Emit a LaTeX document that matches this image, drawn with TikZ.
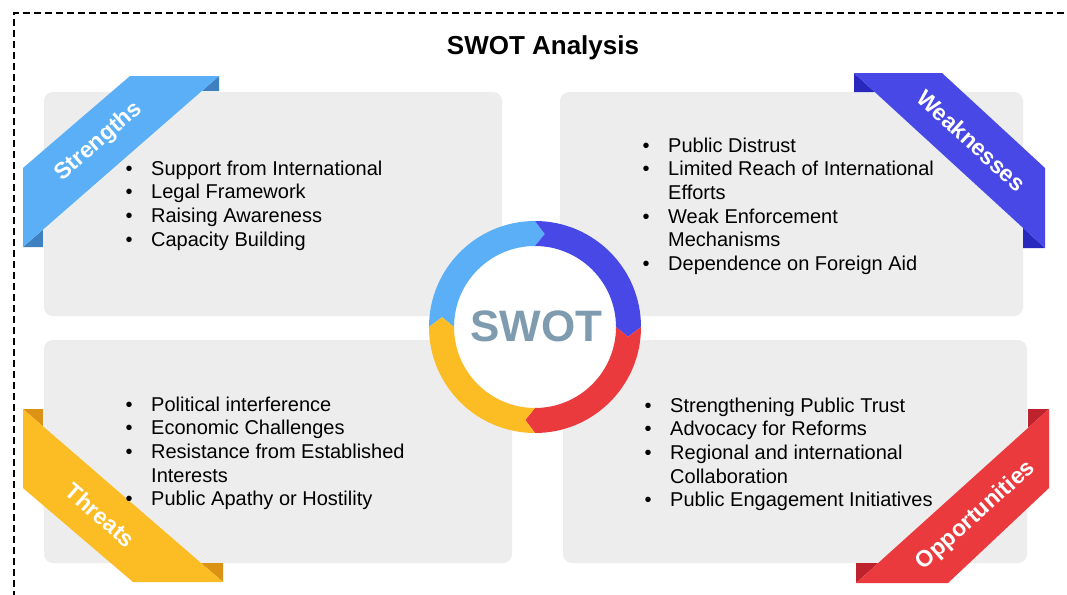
\documentclass[tikz,border=0pt]{standalone}
\usepackage{fontspec}
\setmainfont{Liberation Sans}
\usepackage{array}

\definecolor{swS}{HTML}{5AAFF6}
\definecolor{swSd}{HTML}{3F80C0}
\definecolor{swW}{HTML}{4848E6}
\definecolor{swWd}{HTML}{2828BE}
\definecolor{swO}{HTML}{EB3A3E}
\definecolor{swOd}{HTML}{BE232D}
\definecolor{swT}{HTML}{FBBC24}
\definecolor{swTd}{HTML}{DC9214}
\definecolor{panelgray}{HTML}{EDEDED}
\definecolor{coretext}{HTML}{7F9BAF}

% bullet list set as a two-column table: bullet, then item text
\newcommand{\swotlist}[1]{\fontsize{20}{23.7}\selectfont
  \begin{tabular}[t]{@{}p{7pt}@{\hspace{18.5pt}}l@{}}#1\end{tabular}}

\begin{document}
\begin{tikzpicture}[x=1pt,y=-1pt,
  frame/.style={line width=1.6pt,dash pattern=on 7pt off 4pt},
  panel/.style={fill=panelgray,rounded corners=9pt},
  headline/.style={font=\fontsize{26}{30}\selectfont\bfseries,inner sep=0pt},
  ribbonlabel/.style={font=\fontsize{23}{27}\selectfont\bfseries,text=white,inner sep=0pt},
  itemlist/.style={anchor=base west,inner sep=0pt,align=left},
  coreword/.style={font=\fontsize{44}{50}\selectfont\bfseries,text=coretext,inner sep=0pt}]

\useasboundingbox (0,0) rectangle (1067,594);
\fill[white] (0,0) rectangle (1067,594);
\clip (0,0) rectangle (1067,594);

% dashed outer frame
\draw[frame] (14,620) -- (14,13) -- (1090,13);

% title
\node[headline] (title) at (543,48) {SWOT Analysis};

% quadrant panels
\fill[panel] (44,92) rectangle (502,316);
\fill[panel] (560,92) rectangle (1023,316);
\fill[panel] (44,340) rectangle (512,563);
\fill[panel] (563,340) rectangle (1027,563);

% Strengths ribbon
\fill[swSd] (219,76) -- (219,91) -- (201.8,91) -- cycle;
\fill[swSd] (23,247) -- (43,247) -- (43,229.6) -- cycle;
\fill[swS] (130,76) -- (219,76) -- (23,247) -- (23,168) -- cycle;
\node[ribbonlabel,rotate=41] (lblS) at (98.75,141.75) {Strengths};

% Weaknesses ribbon
\fill[swWd] (854,73) -- (854,92) -- (874.7,92) -- cycle;
\fill[swWd] (1045,248) -- (1023,248) -- (1023,227.8) -- cycle;
\fill[swW] (854,73) -- (942,73) -- (1045,168) -- (1045,248) -- cycle;
\node[ribbonlabel,rotate=-42.5] (lblW) at (971.5,140.5) {Weaknesses};

% Threats ribbon
\fill[swTd] (23,409) -- (43,409) -- (43,426.3) -- cycle;
\fill[swTd] (223,582) -- (223,563) -- (201,563) -- cycle;
\fill[swT] (23,409) -- (23,488) -- (133,582) -- (223,582) -- cycle;
\node[ribbonlabel,rotate=-41] (lblT) at (100.5,515) {Threats};

% Opportunities ribbon
\fill[swOd] (1049,409) -- (1028,409) -- (1028,427.9) -- cycle;
\fill[swOd] (856,583) -- (856,563) -- (878.2,563) -- cycle;
\fill[swO] (1049,409) -- (1049,488) -- (948,583) -- (856,583) -- cycle;
\node[ribbonlabel,rotate=42] (lblO) at (976,515.75) {Opportunities};

% central ring of four arrow segments
\begin{scope}[shift={(535,327)},x=1pt,y=1pt]
  \fill[white] (0,0) circle[radius=81];
  \foreach \s/\c in {180/swS,90/swW,0/swO,-90/swT}{
    \pgfmathsetmacro\e{\s-90}
    \pgfmathsetmacro\tip{\s-96}
    \pgfmathsetmacro\notch{\s-6}
    \fill[\c] (\s:106) arc[start angle=\s,end angle=\e,radius=106]
      -- (\tip:93.5) -- (\e:81) arc[start angle=\e,end angle=\s,radius=81]
      -- (\notch:93.5) -- cycle;
  }
\end{scope}
\node[coreword] (core) at (536.5,326) {SWOT};

% item lists
\node[itemlist] (listS) at (125.5,175) {\swotlist{%
  \textbullet & Support from International\\
  \textbullet & Legal Framework\\
  \textbullet & Raising Awareness\\
  \textbullet & Capacity Building}};

\node[itemlist] (listW) at (642.5,152) {\swotlist{%
  \textbullet & Public Distrust\\
  \textbullet & Limited Reach of International\\
   & Efforts\\
  \textbullet & Weak Enforcement\\
   & Mechanisms\\
  \textbullet & Dependence on Foreign Aid}};

\node[itemlist] (listT) at (125.5,411) {\swotlist{%
  \textbullet & Political interference\\
  \textbullet & Economic Challenges\\
  \textbullet & Resistance from Established\\
   & Interests\\
  \textbullet & Public Apathy or Hostility}};

\node[itemlist] (listO) at (644.5,412) {\swotlist{%
  \textbullet & Strengthening Public Trust\\
  \textbullet & Advocacy for Reforms\\
  \textbullet & Regional and international\\
   & Collaboration\\
  \textbullet & Public Engagement Initiatives}};

\end{tikzpicture}
\end{document}
